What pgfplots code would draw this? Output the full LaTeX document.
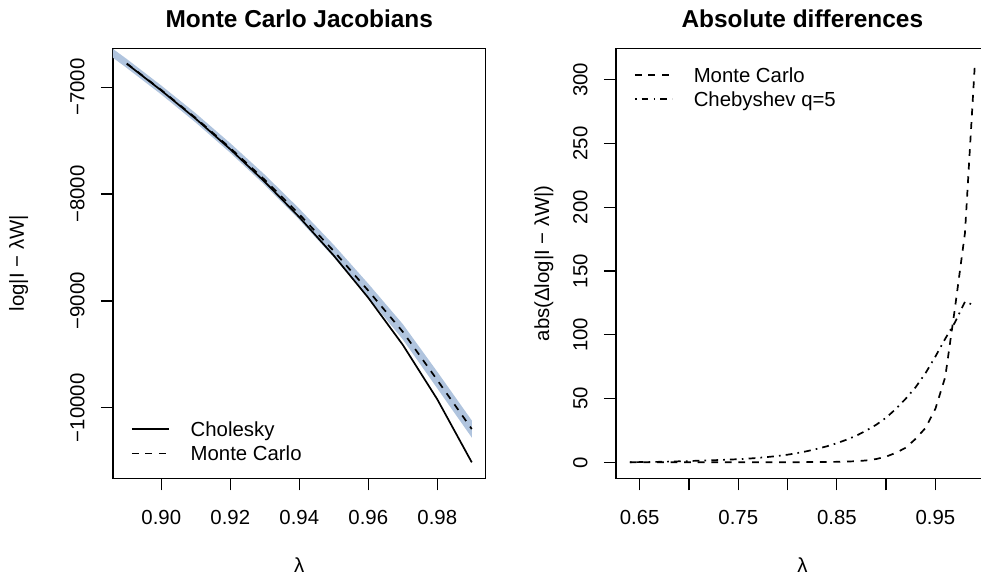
\documentclass[border=0pt]{standalone}
\usepackage{fontspec}
\setmainfont{Liberation Sans}
\usepackage{pgfplots}
\pgfplotsset{compat=1.18}
\definecolor{bandblue}{RGB}{176,196,222}
\newcommand{\tf}{\fontsize{12}{14.4}\selectfont}
\newcommand{\mf}{\fontsize{14.4}{17}\selectfont\bfseries}

\pgfplotsset{
  rpanel/.style={
    scale only axis, width=219.6pt, height=253.5pt,
    axis line style={line width=0.75pt},
    every tick/.style={line width=0.75pt, black},
    tick align=outside, major tick length=7.2pt,
    tick pos=left, scaled ticks=false,
    ticklabel style={font=\tf},
    xticklabel style={anchor=base, inner sep=0pt, yshift=-20.3pt},
    yticklabel style={xshift=-9.7pt, rotate=90, anchor=base, inner sep=0pt},
    title style={at={(axis description cs:0.5,1)}, anchor=base, yshift=5.9pt, font=\mf},
    xlabel style={at={(axis description cs:0.5,0)}, anchor=base, yshift=-55.4pt, font=\tf},
    ylabel style={at={(axis description cs:0,0.5)}, anchor=base, yshift=52.5pt, font=\tf},
    legend style={draw=none, fill=none, inner sep=0pt, outer sep=0pt,
      row sep=3.3pt, column sep=12.2pt,
      nodes={inner sep=0pt, anchor=base west, text height=8.6pt, text depth=2.4pt, font=\tf}},
    legend image code/.code={\draw[##1] (0pt,4.3pt) -- (22pt,4.3pt);},
  },
  mcline/.style={black, line width=1pt, dash pattern=on 4pt off 4pt},
}

\begin{document}
\begin{tikzpicture}
\useasboundingbox (0,0) rectangle (578.2pt,342.4pt);

\begin{axis}[rpanel, at={(66.6pt,60.5pt)}, anchor=south west,
  xmin=0.886, xmax=0.994, ymin=-10660, ymax=-6635,
  xtick={0.90,0.92,0.94,0.96,0.98}, xticklabels={0.90,0.92,0.94,0.96,0.98},
  ytick={-10000,-9000,-8000,-7000}, yticklabels={−10000,−9000,−8000,−7000},
  title={Monte Carlo Jacobians}, xlabel={λ}, ylabel={log|I − λW|},
  legend style={at={(axis description cs:0.0483,0.131)}, anchor=north west},
]
% band round the Monte Carlo estimate
\addplot[draw=none, fill=bandblue, forget plot] coordinates {
  (0.88,-6500) (0.89,-6736.5) (0.90,-6984.5) (0.91,-7245) (0.92,-7524.5)
  (0.93,-7819) (0.94,-8137) (0.95,-8476) (0.96,-8839) (0.97,-9217)
  (0.98,-9663) (0.99,-10119)
  (0.99,-10279) (0.98,-9819) (0.97,-9361) (0.96,-8969) (0.95,-8592)
  (0.94,-8241) (0.93,-7916) (0.92,-7614.5) (0.91,-7332) (0.90,-7068.5)
  (0.89,-6820.5) (0.88,-6580)} -- cycle;
\addplot[black, line width=1pt] coordinates {
  (0.89,-6781) (0.90,-7031) (0.91,-7296) (0.92,-7581) (0.93,-7886)
  (0.94,-8216) (0.95,-8576) (0.96,-8971) (0.97,-9411) (0.98,-9921) (0.99,-10511)};
\addplot[mcline] coordinates {
  (0.89,-6778.5) (0.90,-7026.5) (0.91,-7288.5) (0.92,-7569.5) (0.93,-7867.5)
  (0.94,-8189) (0.95,-8534) (0.96,-8904) (0.97,-9289) (0.98,-9741) (0.99,-10199)};
\legend{Cholesky, Monte Carlo}
\end{axis}

\begin{axis}[rpanel, at={(363.1pt,60.5pt)}, anchor=south west,
  xmin=0.626, xmax=1.004, ymin=-12.5, ymax=324.8,
  xtick={0.65,0.70,0.75,0.80,0.85,0.90,0.95}, xticklabels={0.65,,0.75,,0.85,,0.95},
  ytick={0,50,100,150,200,250,300}, yticklabels={0,50,100,150,200,250,300},
  title={Absolute differences}, xlabel={λ}, ylabel={abs(Δlog|I − λW|)},
  ylabel style={yshift=-13pt},
  legend style={at={(axis description cs:0.0483,0.955)}, anchor=north west},
]
\addplot[mcline] coordinates {
  (0.64,0.0) (0.65,0.0) (0.66,0.0) (0.67,0.0) (0.68,0.0) (0.69,0.0) (0.70,0.0)
  (0.71,0.0) (0.72,0.0) (0.73,0.0) (0.74,0.0) (0.75,0.1) (0.76,0.1) (0.77,0.1)
  (0.78,0.1) (0.79,0.1) (0.80,0.1) (0.81,0.1) (0.82,0.2) (0.83,0.2) (0.84,0.3)
  (0.85,0.4) (0.86,0.6) (0.87,0.9) (0.88,1.5) (0.89,2.6) (0.90,4.5) (0.91,7.5)
  (0.92,11.5) (0.93,18.5) (0.94,27) (0.95,42) (0.96,67) (0.97,122) (0.98,180)
  (0.99,312)};
\addplot[black, line width=1pt, dash pattern=on 1pt off 3pt on 4pt off 3pt] coordinates {
  (0.64,0.1) (0.65,0.2) (0.66,0.3) (0.67,0.4) (0.68,0.6) (0.69,0.8) (0.70,1.0)
  (0.71,1.3) (0.72,1.6) (0.73,1.8) (0.74,2.1) (0.75,2.5) (0.76,2.9) (0.77,3.5)
  (0.78,4.2) (0.79,5.0) (0.80,6.0) (0.81,7.3) (0.82,8.8) (0.83,10.6) (0.84,12.6)
  (0.85,15.0) (0.86,17.8) (0.87,21) (0.88,25) (0.89,29.5) (0.90,35) (0.91,42)
  (0.92,50) (0.93,59) (0.94,70) (0.95,83) (0.96,97) (0.97,110) (0.98,126)
  (0.99,123)};
\legend{Monte Carlo, Chebyshev q=5}
\end{axis}
\end{tikzpicture}
\end{document}
